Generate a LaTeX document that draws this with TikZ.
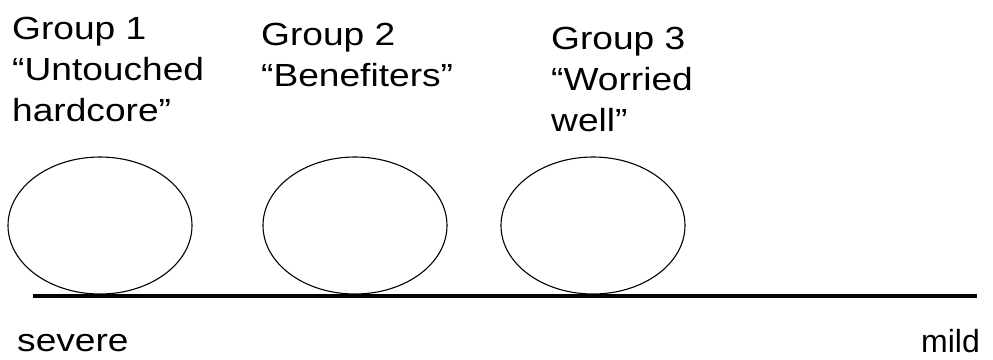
\documentclass[tikz,border=0pt]{standalone}
\usepackage{fontspec}
\setmainfont{Liberation Sans}[FakeStretch=1.16]
\newfontfamily\plainsans{Liberation Sans}
\usetikzlibrary{shapes.geometric}
\tikzset{
  oval/.style={ellipse, draw, line width=1.1pt, minimum width=184pt, minimum height=137pt, inner sep=0pt},
  lbl/.style={anchor=base west, inner sep=0pt, align=left, font=\fontsize{32}{41}\selectfont},
  axis/.style={line width=4pt}
}
\begin{document}
\begin{tikzpicture}[x=1pt,y=-1pt]
\useasboundingbox (0,0) rectangle (993,359);
\node[oval] (e1) at (100,225.5) {};
\node[oval] (e2) at (355,225.5) {};
\node[oval] (e3) at (593,225.5) {};
\coordinate (L) at (33,296);
\coordinate (R) at (977,296);
\draw[axis] (L) -- (R);
\node[lbl] (g1) at (12,121) {Group 1\\“Untouched\\hardcore”};
\node[lbl] (g2) at (261,86) {Group 2\\“Benefiters”};
\node[lbl] (g3) at (551,131) {Group 3\\“Worried\\well”};
\node[lbl] (sev) at (17,351) {severe};
\node[lbl, anchor=base east, font=\plainsans\fontsize{32}{41}\selectfont] (mild) at (980,352) {mild};
\end{tikzpicture}
\end{document}
